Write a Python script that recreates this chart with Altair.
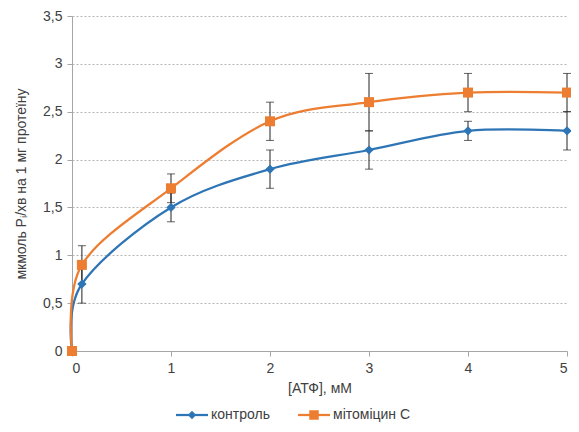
import altair as alt
import pandas as pd

atp = [0, 0.1, 1, 2, 3, 4, 5]
control = [0, 0.7, 1.5, 1.9, 2.1, 2.3, 2.3]
control_err = [0, 0.2, 0.15, 0.2, 0.2, 0.1, 0.2]
mito = [0, 0.9, 1.7, 2.4, 2.6, 2.7, 2.7]
mito_err = [0, 0.2, 0.15, 0.2, 0.3, 0.2, 0.2]
series = ["контроль", "мітоміцин С"]
y_ticks = [0, 0.5, 1, 1.5, 2, 2.5, 3, 3.5]
x_ticks = [0, 1, 2, 3, 4, 5]

BLUE = "#2E75B6"
ORANGE = "#ED7D31"
FONT = "Liberation Sans"
TXT = "#404040"

rows = []
for s, vals, errs in [(series[0], control, control_err), (series[1], mito, mito_err)]:
    for x, v, e in zip(atp, vals, errs):
        rows.append({"series": s, "x": x, "y": v, "err": e, "lo": v - e, "hi": v + e})
df = pd.DataFrame(rows)

xs = alt.Scale(domain=[0, 5], nice=False)
ys = alt.Scale(domain=[0, 3.5], nice=False)

xax = alt.Axis(values=x_ticks, title="[АТФ], мМ", grid=False, tickSize=5,
               tickColor="#a6a6a6", domainColor="#a6a6a6", labelPadding=5,
               titlePadding=6, format="d")
yax = alt.Axis(values=y_ticks, title="мкмоль Pᵢ/хв на 1 мг протеїну",
               grid=True, gridDash=[2, 2], gridColor="#b5b5b5", tickSize=5,
               tickColor="#a6a6a6", domainColor="#a6a6a6", labelPadding=5,
               titlePadding=14,
               labelExpr="replace(format(datum.value, '~g'), '.', ',')")

base = alt.Chart(df)
err_df = base.transform_filter("datum.err > 0")

rules = err_df.mark_rule(color="#222", strokeWidth=1).encode(
    x=alt.X("x:Q", scale=xs, axis=xax),
    y=alt.Y("lo:Q", scale=ys, axis=yax),
    y2="hi:Q",
)
caps_lo = err_df.mark_tick(color="#222", thickness=1, size=8, orient="horizontal").encode(
    x=alt.X("x:Q", scale=xs), y=alt.Y("lo:Q", scale=ys))
caps_hi = err_df.mark_tick(color="#222", thickness=1, size=8, orient="horizontal").encode(
    x=alt.X("x:Q", scale=xs), y=alt.Y("hi:Q", scale=ys))

lines = base.mark_line(interpolate="cardinal", strokeWidth=2.25).encode(
    x=alt.X("x:Q", scale=xs),
    y=alt.Y("y:Q", scale=ys),
    stroke=alt.Stroke("series:N", scale=alt.Scale(domain=series, range=[BLUE, ORANGE]), legend=None),
    order=alt.Order("x:Q"),
)

pts_ctrl = base.transform_filter(alt.datum.series == series[0]).mark_point(
    filled=True, opacity=1, shape="diamond", size=85, color=BLUE).encode(
    x=alt.X("x:Q", scale=xs), y=alt.Y("y:Q", scale=ys))
pts_mito = base.transform_filter(alt.datum.series == series[1]).mark_point(
    filled=True, opacity=1, shape="square", size=100, color=ORANGE).encode(
    x=alt.X("x:Q", scale=xs), y=alt.Y("y:Q", scale=ys))

# manual legend (line + marker + label), placed below the axis title
leg_df = pd.DataFrame({"name": series})
LY = 399
def legend_item(i, x0, shape, size, color):
    d = alt.Chart(leg_df).transform_filter(alt.datum.name == series[i])
    ln = d.mark_rule(color=color, strokeWidth=2.25).encode(
        x=alt.value(x0), x2=alt.value(x0 + 32), y=alt.value(LY))
    mk = d.mark_point(filled=True, opacity=1, shape=shape, size=size, color=color).encode(
        x=alt.value(x0 + 16), y=alt.value(LY))
    tx = d.mark_text(align="left", baseline="middle", font=FONT, fontSize=14, color=TXT).encode(
        x=alt.value(x0 + 35), y=alt.value(LY), text="name:N")
    return [ln, mk, tx]

legend_layers = legend_item(0, 104, "diamond", 70, BLUE) + legend_item(1, 226, "square", 90, ORANGE)

chart = alt.layer(rules, caps_lo, caps_hi, lines, pts_ctrl, pts_mito, *legend_layers).properties(
    width=495, height=335,
    autosize=alt.AutoSizeParams(type="none"),
    padding={"left": 64, "top": 8, "right": 4, "bottom": 73},
).configure_view(stroke=None).configure_axis(
    labelFont=FONT, labelFontSize=14, labelColor=TXT,
    titleFont=FONT, titleFontSize=14, titleColor=TXT, titleFontWeight="normal",
)

chart.save("out.html", embed_options={"renderer": "svg", "actions": False})
